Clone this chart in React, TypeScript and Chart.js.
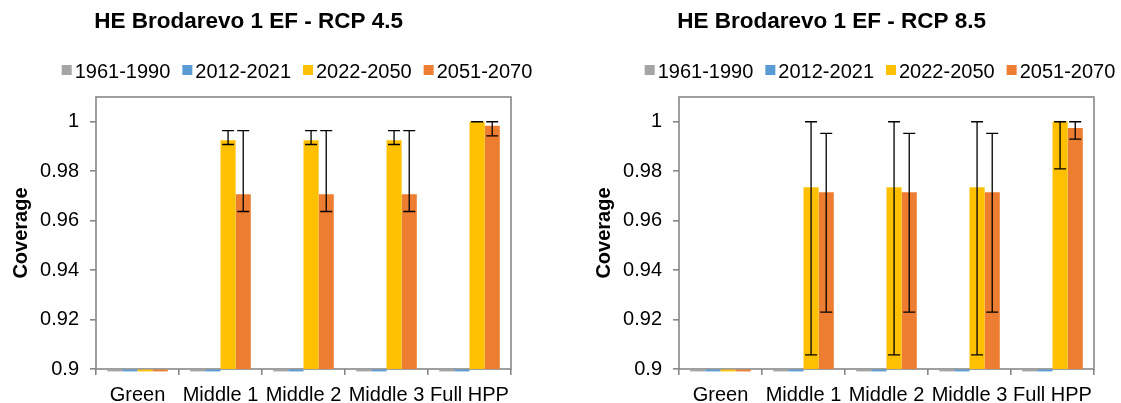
import React, { useEffect, useRef } from "react";
import { Chart, registerables } from "chart.js";

Chart.register(...registerables);

const FONT = "'Liberation Sans', Arial, Helvetica, sans-serif";

const categories = ["Green", "Middle 1", "Middle 2", "Middle 3", "Full HPP"];
const seriesNames = ["1961-1990", "2012-2021", "2022-2050", "2051-2070"];
const seriesColors = ["#A5A5A5", "#5B9BD5", "#FFC000", "#ED7D31"];
const yAxisTitle = "Coverage";
const yMin = 0.9;
const yMax = 1.01;
const yStep = 0.02;

// RCP 4.5
const title45 = "HE Brodarevo 1 EF - RCP 4.5";
const rcp45_1961 = [0.9, 0.9, 0.9, 0.9, 0.9];
const rcp45_2012 = [0.9, 0.9, 0.9, 0.9, 0.9];
const rcp45_2022 = [0.9, 0.9925, 0.9925, 0.9925, 1.0];
const rcp45_2051 = [0.9, 0.9707, 0.9707, 0.9707, 0.9984];
const rcp45_2022_low = [null, 0.9908, 0.9908, 0.9908, 1.0];
const rcp45_2022_high = [null, 0.9964, 0.9964, 0.9964, 1.0];
const rcp45_2051_low = [null, 0.9637, 0.9637, 0.9637, 0.9943];
const rcp45_2051_high = [null, 0.9964, 0.9964, 0.9964, 1.0];

// RCP 8.5
const title85 = "HE Brodarevo 1 EF - RCP 8.5";
const rcp85_1961 = [0.9, 0.9, 0.9, 0.9, 0.9];
const rcp85_2012 = [0.9, 0.9, 0.9, 0.9, 0.9];
const rcp85_2022 = [0.9, 0.9735, 0.9735, 0.9735, 1.0];
const rcp85_2051 = [0.9, 0.9715, 0.9715, 0.9715, 0.9975];
const rcp85_2022_low = [null, 0.9057, 0.9057, 0.9057, 0.9809];
const rcp85_2022_high = [null, 1.0, 1.0, 1.0, 1.0];
const rcp85_2051_low = [null, 0.923, 0.923, 0.923, 0.993];
const rcp85_2051_high = [null, 0.9953, 0.9953, 0.9953, 1.0];

const none = [null, null, null, null, null];

type Err = (number | null)[];

interface PanelProps {
  title: string;
  values: number[][];
  lows: Err[];
  highs: Err[];
}

const AXIS_GRAY = "#878787";

const boxPlugin = {
  id: "plotBox",
  beforeDatasetsDraw(chart: any) {
    const { ctx, chartArea } = chart;
    ctx.save();
    ctx.strokeStyle = AXIS_GRAY;
    ctx.lineWidth = 1.6;
    ctx.strokeRect(chartArea.left, chartArea.top, chartArea.right - chartArea.left, chartArea.bottom - chartArea.top);
    ctx.restore();
  },
};

// Bars whose value sits on the axis minimum are shown as a thin strip, as in the source.
const flatBarPlugin = {
  id: "flatBars",
  afterDatasetsDraw(chart: any) {
    const { ctx } = chart;
    const yScale = chart.scales.y;
    ctx.save();
    chart.data.datasets.forEach((ds: any, i: number) => {
      const meta = chart.getDatasetMeta(i);
      meta.data.forEach((el: any, j: number) => {
        const v = ds.data[j];
        if (v == null) return;
        const y = yScale.getPixelForValue(v);
        if (Math.abs(yScale.getPixelForValue(yScale.min) - y) > 1) return;
        ctx.fillStyle = ds.backgroundColor;
        ctx.fillRect(el.x - el.width / 2, y + 0.6, el.width, 1.8);
      });
    });
    ctx.restore();
  },
};

const errorBarPlugin = {
  id: "errorBars",
  afterDatasetsDraw(chart: any) {
    const { ctx } = chart;
    const yScale = chart.scales.y;
    ctx.save();
    ctx.strokeStyle = "#000";
    ctx.lineWidth = 1.3;
    chart.data.datasets.forEach((ds: any, i: number) => {
      const meta = chart.getDatasetMeta(i);
      const lows: Err = ds.errLow || [];
      const highs: Err = ds.errHigh || [];
      meta.data.forEach((el: any, j: number) => {
        const lo = lows[j];
        const hi = highs[j];
        if (lo == null || hi == null) return;
        const x = el.x;
        const yl = yScale.getPixelForValue(lo);
        const yh = yScale.getPixelForValue(hi);
        const cap = 6;
        ctx.beginPath();
        ctx.moveTo(x, yl);
        ctx.lineTo(x, yh);
        ctx.moveTo(x - cap, yl);
        ctx.lineTo(x + cap, yl);
        ctx.moveTo(x - cap, yh);
        ctx.lineTo(x + cap, yh);
        ctx.stroke();
      });
    });
    ctx.restore();
  },
};

function makeHeaderPlugin(title: string) {
  return {
    id: "header",
    afterDraw(chart: any) {
      const { ctx } = chart;
      ctx.save();
      ctx.fillStyle = "#000";
      ctx.textBaseline = "alphabetic";
      ctx.textAlign = "center";
      ctx.font = `bold 22.5px ${FONT}`;
      ctx.fillText(title, 248.6, 28.3);

      ctx.font = `20px ${FONT}`;
      ctx.textAlign = "left";
      const box = 10;
      const gapText = 3;
      const gapItem = 12;
      const widths = seriesNames.map((n) => ctx.measureText(n).width);
      const total = widths.reduce((a, w) => a + box + gapText + w, 0) + gapItem * (seriesNames.length - 1);
      let x = 297 - total / 2;
      seriesNames.forEach((name, i) => {
        ctx.fillStyle = seriesColors[i];
        ctx.fillRect(x, 65, box, box);
        ctx.fillStyle = "#000";
        ctx.fillText(name, x + box + gapText, 77.7);
        x += box + gapText + widths[i] + gapItem;
      });
      ctx.restore();
    },
  };
}

function Panel({ title, values, lows, highs }: PanelProps) {
  const ref = useRef<HTMLCanvasElement | null>(null);
  useEffect(() => {
    if (!ref.current) return;
    const tickFont = { family: FONT, size: 20 };
    const chart = new Chart(ref.current, {
      type: "bar",
      data: {
        labels: categories,
        datasets: seriesNames.map((name, i) => ({
          label: name,
          data: values[i],
          backgroundColor: seriesColors[i],
          borderWidth: 0,
          categoryPercentage: 0.73,
          barPercentage: 1,
          errLow: lows[i],
          errHigh: highs[i],
        })) as any,
      },
      options: {
        animation: false,
        responsive: false,
        maintainAspectRatio: false,
        layout: { padding: { left: 0, right: 29, top: 97, bottom: 0 } },
        plugins: {
          legend: { display: false },
          title: { display: false },
          tooltip: { enabled: false },
        },
        scales: {
          x: {
            grid: {
              offset: true,
              drawOnChartArea: false,
              drawTicks: true,
              tickLength: 6,
              color: AXIS_GRAY,
              lineWidth: 1.6,
            },
            border: { display: false },
            ticks: {
              font: tickFont,
              color: "#000",
              padding: 8,
              maxRotation: 0,
              minRotation: 0,
              autoSkip: false,
            },
            afterFit: (s: any) => {
              s.height = 61;
            },
          },
          y: {
            min: yMin,
            max: yMax,
            grid: {
              drawOnChartArea: false,
              drawTicks: true,
              tickLength: 6,
              color: AXIS_GRAY,
              lineWidth: 1.6,
            },
            border: { display: false },
            ticks: {
              stepSize: yStep,
              includeBounds: false,
              font: tickFont,
              color: "#000",
              padding: 11,
              callback: (v: any) => String(Number(Number(v).toFixed(2))),
            },
            title: {
              display: true,
              text: yAxisTitle,
              font: { family: FONT, size: 20, weight: "bold" },
              color: "#000",
              padding: { top: 9, bottom: 0 },
            },
            afterFit: (s: any) => {
              s.width = 96;
            },
          },
        },
      } as any,
      plugins: [boxPlugin, flatBarPlugin, errorBarPlugin, makeHeaderPlugin(title)],
    });
    return () => chart.destroy();
  }, [title, values, lows, highs]);
  return <canvas ref={ref} width={540} height={430} style={{ display: "block" }} />;
}

const values45 = [rcp45_1961, rcp45_2012, rcp45_2022, rcp45_2051];
const lows45 = [none, none, rcp45_2022_low, rcp45_2051_low];
const highs45 = [none, none, rcp45_2022_high, rcp45_2051_high];
const values85 = [rcp85_1961, rcp85_2012, rcp85_2022, rcp85_2051];
const lows85 = [none, none, rcp85_2022_low, rcp85_2051_low];
const highs85 = [none, none, rcp85_2022_high, rcp85_2051_high];

export default function App() {
  return (
    <div
      style={{
        position: "fixed",
        left: 0,
        top: 0,
        width: 1121,
        height: 403,
        overflow: "hidden",
        background: "#fff",
      }}
    >
      <div style={{ position: "absolute", left: 0, top: 0 }}>
        <Panel title={title45} values={values45} lows={lows45} highs={highs45} />
      </div>
      <div style={{ position: "absolute", left: 583, top: 0 }}>
        <Panel title={title85} values={values85} lows={lows85} highs={highs85} />
      </div>
    </div>
  );
}
